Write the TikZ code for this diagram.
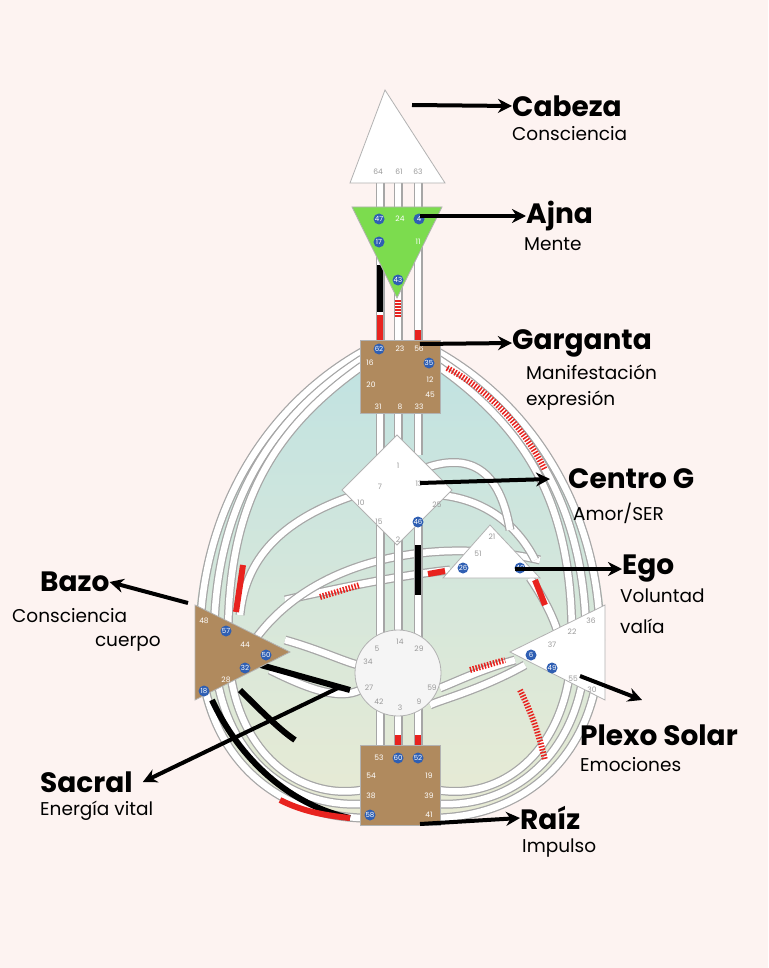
\documentclass[tikz,border=0pt]{standalone}
\usepackage{fontspec}
\setmainfont{Poppins}
\usetikzlibrary{positioning,arrows.meta}
\definecolor{bgpink}{HTML}{FDF3F1}
\definecolor{gatebl}{HTML}{2F5FB3}
\definecolor{brownc}{HTML}{B08A5E}
\definecolor{ajnag}{HTML}{7CDC4E}
\definecolor{chred}{HTML}{E8231F}
\definecolor{bodytop}{HTML}{BFE2E2}
\definecolor{bodybot}{HTML}{E9EBD4}
\tikzset{%
channel/.style={draw=gray!70,line width=9pt,postaction={draw=white,line width=6.5pt}},
redseg/.style={draw=chred,line width=6pt},
blackseg/.style={draw=black,line width=6pt},
hatch/.style={draw=chred,line width=6pt,dash pattern=on 1.5pt off 1.5pt},
center/.style={draw=gray!60,line width=0.8pt},
gate/.style={font=\fontsize{7.5}{8}\selectfont,text=gray!80,inner sep=0pt},
wgate/.style={gate,text=white},
bgate/.style={circle,fill=gatebl,text=white,font=\fontsize{7}{8}\selectfont,inner sep=0pt,minimum size=11pt},
pointer/.style={-{Stealth[length=14pt,width=14pt]},line width=4pt},
title/.style={font=\fontsize{28}{30}\selectfont\bfseries,anchor=west,inner sep=0pt},
sub/.style={font=\fontsize{18.5}{21}\selectfont,anchor=west,inner sep=0pt}
}
\newcommand{\gt}[3]{\node[gate] at (#1,#2) {#3};}
\newcommand{\wg}[3]{\node[wgate] at (#1,#2) {#3};}
\newcommand{\bg}[3]{\node[bgate] at (#1,#2) {#3};}
\begin{document}
\begin{tikzpicture}[x=1pt,y=-1pt]
\fill[bgpink] (0,0) rectangle (768,968);
\useasboundingbox (0,0) rectangle (768,968);

% body
\shade[top color=bodytop,bottom color=bodybot]
  (400,340) .. controls (260,400) and (195,520) .. (195,640)
  .. controls (195,760) and (280,825) .. (400,825)
  .. controls (520,825) and (605,760) .. (605,640)
  .. controls (605,520) and (540,400) .. (400,340) -- cycle;

% outer rings
\foreach \d in {0,14,28} {
  \path[channel] (362,352+\d/2) .. controls (260,410+\d) and (200+\d,520) .. (200+\d,640)
    .. controls (200+\d,750) and (270+\d,815-\d/2) .. (362,818-\d);
  \path[channel] (438,352+\d/2) .. controls (540,410+\d) and (600-\d,520) .. (600-\d,640)
    .. controls (600-\d,750) and (530-\d,815-\d/2) .. (438,818-\d);
}
% inner channels
\path[channel] (355,495) .. controls (280,520) and (245,560) .. (240,615);
\path[channel] (285,600) .. controls (330,590) and (400,575) .. (450,570);
\path[channel] (245,655) .. controls (300,560) and (430,535) .. (540,560);
\path[channel] (440,495) .. controls (490,500) and (520,530) .. (535,560);
\path[channel] (530,578) .. controls (545,600) and (555,620) .. (560,640);
\path[channel] (285,640) .. controls (320,650) and (340,660) .. (358,665);
\path[channel] (270,670) .. controls (310,690) and (340,700) .. (360,690);
\path[channel] (515,660) .. controls (480,670) and (460,680) .. (440,688);
\path[channel] (525,665) .. controls (480,690) and (440,700) .. (430,705);
\path[channel] (420,470) .. controls (470,450) and (500,470) .. (510,530);
\foreach \x in {380,398,418} {
  \path[channel] (\x,180) -- (\x,210);
  \path[channel] (\x,410) -- (\x,455);
  \path[channel] (\x,525) -- (\x,640);
  \path[channel] (\x,705) -- (\x,750);
}
\path[channel] (380,230) -- (380,345);
\path[channel] (418,230) -- (418,345);
\path[channel] (398,280) -- (398,345);
% activations
\path[redseg] (380,315) -- (380,340);
\path[blackseg] (380,265) -- (380,312);
\path[hatch] (398,300) -- (398,318);
\path[redseg] (418,330) -- (418,342);
\path[hatch] (447,368) .. controls (480,385) and (520,420) .. (545,470);
\path[redseg] (243,565) -- (236,612);
\path[hatch] (320,597) -- (360,585);
\path[redseg] (428,574) -- (445,571);
\path[blackseg] (418,545) -- (418,595);
\path[hatch] (470,670) -- (505,660);
\path[hatch] (520,690) .. controls (535,720) and (540,740) .. (545,760);
\path[redseg] (535,580) -- (545,605);
\path[blackseg] (212,700) .. controls (240,760) and (290,805) .. (350,818);
\path[redseg] (280,800) .. controls (300,810) and (320,815) .. (350,818);
\path[blackseg] (250,662) -- (350,690);
\path[blackseg] (240,690) .. controls (260,710) and (280,730) .. (295,740);
\path[redseg] (398,735) -- (398,748);
\path[redseg] (418,735) -- (418,748);

% centers
\filldraw[center,fill=white] (385,90) -- (445,183) -- (350,183) -- cycle;
\gt{378}{172}{64}\gt{399}{172}{61}\gt{418}{172}{63}
\filldraw[center,fill=ajnag] (352,207) -- (442,207) -- (397,298) -- cycle;
\bg{379}{219}{47}\wg{400}{219}{24}\bg{419}{219}{4}
\bg{379}{242}{17}\wg{418}{242}{11}\bg{398}{280}{43}
\filldraw[center,fill=brownc] (360,340) rectangle (440,413);
\bg{379}{349}{62}\wg{400}{349}{23}\wg{419}{349}{56}
\wg{370}{363}{16}\bg{429}{363}{35}\wg{430}{380}{12}
\wg{371}{385}{20}\wg{430}{395}{45}
\wg{378}{407}{31}\wg{400}{407}{8}\wg{419}{407}{33}
\filldraw[center,fill=white] (397,435) -- (452,490) -- (397,545) -- (342,490) -- cycle;
\gt{398}{466}{1}\gt{380}{487}{7}\gt{419}{484}{13}\gt{361}{503}{10}
\gt{437}{505}{25}\gt{379}{522}{15}\bg{418}{522}{46}\gt{398}{540}{2}
\filldraw[center,fill=white] (490,525) -- (540,578) -- (443,578) -- cycle;
\gt{492}{537}{21}\gt{478}{554}{51}\bg{463}{568}{26}\bg{520}{568}{40}
\filldraw[center,fill=brownc] (195,605) -- (290,652) -- (195,700) -- cycle;
\wg{204}{621}{48}\bg{226}{631}{57}\wg{245}{645}{44}\bg{266}{655}{50}
\bg{245}{668}{32}\wg{226}{680}{28}\bg{204}{691}{18}
\filldraw[center,fill=white] (605,605) -- (510,652) -- (605,700) -- cycle;
\gt{591}{621}{36}\gt{572}{632}{22}\gt{552}{645}{37}\bg{531}{655}{6}
\bg{552}{668}{49}\gt{573}{679}{55}\gt{592}{690}{30}
\filldraw[center,fill=gray!8] (398,673) circle (43);
\gt{400}{642}{14}\gt{419}{649}{29}\gt{377}{649}{5}\gt{368}{662}{34}
\gt{432}{688}{59}\gt{369}{688}{27}\gt{379}{702}{42}\gt{400}{708}{3}\gt{419}{702}{9}
\filldraw[center,fill=brownc] (360,745) rectangle (440,825);
\wg{379}{758}{53}\bg{398}{758}{60}\bg{418}{758}{52}
\wg{371}{776}{54}\wg{429}{776}{19}\wg{371}{796}{38}\wg{429}{796}{39}
\bg{370}{815}{58}\wg{429}{815}{41}

% labels
\coordinate (hd) at (412,105); \node[title] (cab) at (512,106) {Cabeza};
\node[sub] at (512,134) {Consciencia};
\draw[pointer] (hd) -- (cab.west);
\coordinate (aj) at (420,216); \node[title] (ajn) at (526,216) {Ajna};
\node[sub] at (524,244) {Mente};
\draw[pointer] (aj) -- (ajn.west);
\coordinate (th) at (420,344); \node[title] (gar) at (512,343) {Garganta};
\node[sub] at (526,372) {Manifestación};
\node[sub] at (526,401) {expresión};
\draw[pointer] (th) -- (gar.west);
\coordinate (gc) at (420,483); \node[title] (cg) at (568,479) {Centro G};
\node[sub] at (573,513) {Amor/SER};
\draw[pointer] (gc) -- ([xshift=-18pt]cg.west);
\coordinate (eg) at (515,569); \node[title] (ego) at (622,569) {Ego};
\node[sub] at (620,596) {Voluntad};
\node[sub] at (620,626) {valía};
\draw[pointer] (eg) -- (ego.west);
\coordinate (sp) at (188,603); \node[title] (baz) at (40,582) {Bazo};
\node[sub] at (12,616) {Consciencia};
\node[sub,anchor=east] at (161,644) {cuerpo};
\draw[pointer] (sp) -- (baz.east);
\coordinate (so) at (580,676); \node[title] (pl) at (580,735) {Plexo Solar};
\node[sub] at (580,765) {Emociones};
\draw[pointer] (so) -- (642,700);
\coordinate (sa) at (338,688); \node[title] (sac) at (40,782) {Sacral};
\node[sub] at (40,811) {Energía vital};
\draw[pointer] (sa) -- ([xshift=10pt]sac.east);
\coordinate (rt) at (420,824); \node[title] (rai) at (520,818) {Raíz};
\node[sub] at (522,848) {Impulso};
\draw[pointer] (rt) -- (rai.west);
\end{tikzpicture}
\end{document}
